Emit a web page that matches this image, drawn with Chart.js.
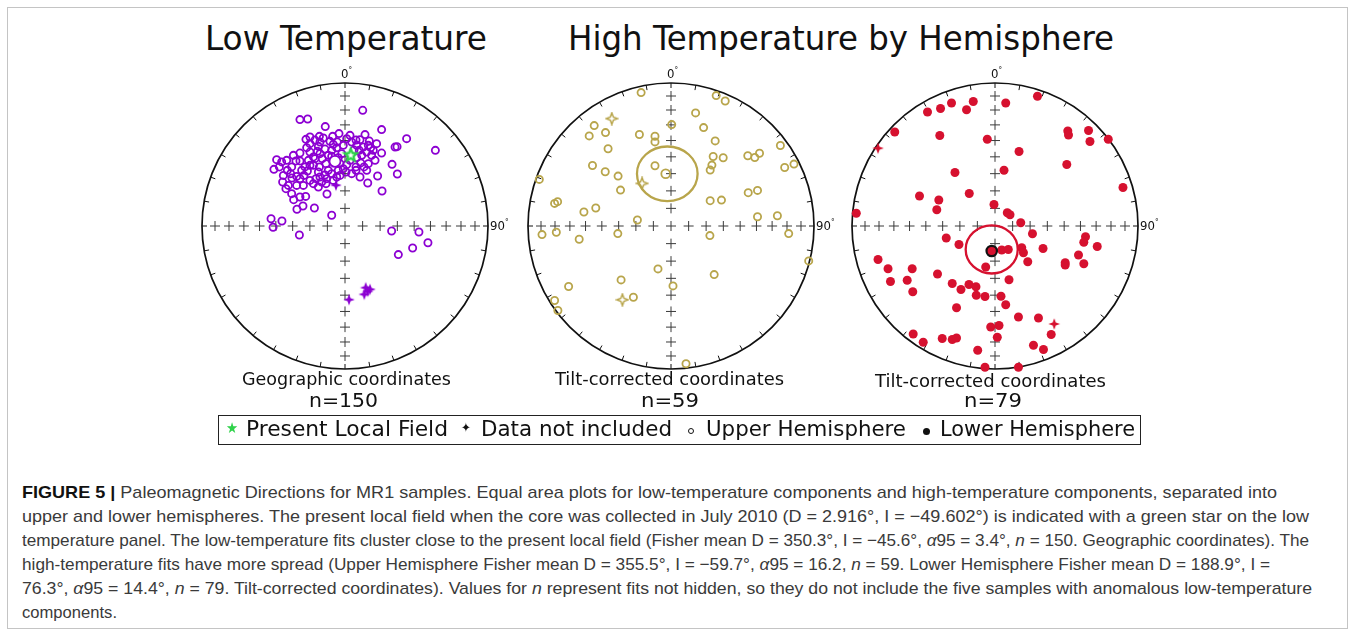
<!DOCTYPE html>
<html>
<head>
<meta charset="utf-8">
<script src="https://cdn.jsdelivr.net/npm/chart.js"></script>
<style>
  body { margin:0; width:1355px; height:635px; position:relative; background:#fff; overflow:hidden;
         font-family:"DejaVu Sans Condensed","DejaVu Sans",sans-serif; color:#111; }
  .t { position:absolute; white-space:nowrap; line-height:1; transform-origin:0 0; }
  canvas { position:absolute; }
  #frame { position:absolute; left:7px; top:7px; width:1339px; height:620px; border:1px solid #c4c4c4; }
  #legend { position:absolute; left:218px; top:415px; width:921px; height:28px; border:1.5px solid #222; }
  .cap { font-family:"Liberation Sans Narrow","Liberation Sans",sans-serif; font-size:17px; color:#3a3a3a; }
  .cap b { color:#111; }
</style>
</head>
<body>
<div id="frame"></div>

<div class="t fit" data-w="282" style="left:205px;top:22px;font-size:33px">Low Temperature</div>
<div class="t fit" data-w="546" style="left:568px;top:22px;font-size:33px">High Temperature by Hemisphere</div>

<canvas id="c1" width="320" height="320" style="left:185px;top:66px"></canvas>
<canvas id="c2" width="320" height="320" style="left:511px;top:66px"></canvas>
<canvas id="c3" width="320" height="320" style="left:835px;top:66px"></canvas>

<div class="t" style="left:341px;top:67px;font-size:13px">0<span style="font-size:8px;vertical-align:5px">°</span></div>
<div class="t" style="left:667px;top:67px;font-size:13px">0<span style="font-size:8px;vertical-align:5px">°</span></div>
<div class="t" style="left:991px;top:67px;font-size:13px">0<span style="font-size:8px;vertical-align:5px">°</span></div>
<div class="t" style="left:490px;top:219px;font-size:13px">90<span style="font-size:8px;vertical-align:5px">°</span></div>
<div class="t" style="left:816px;top:219px;font-size:13px">90<span style="font-size:8px;vertical-align:5px">°</span></div>
<div class="t" style="left:1140px;top:219px;font-size:13px">90<span style="font-size:8px;vertical-align:5px">°</span></div>

<div class="t fit" data-w="209" style="left:242px;top:371px;font-size:17px">Geographic coordinates</div>
<div class="t fit" data-w="69" style="left:309px;top:390px;font-size:20px">n=150</div>
<div class="t fit" data-w="229" style="left:555px;top:371px;font-size:17px">Tilt-corrected coordinates</div>
<div class="t fit" data-w="58" style="left:641px;top:390px;font-size:20px">n=59</div>
<div class="t fit" data-w="231" style="left:875px;top:373px;font-size:17px">Tilt-corrected coordinates</div>
<div class="t fit" data-w="58" style="left:964px;top:390px;font-size:20px">n=79</div>

<div id="legend"></div>
<div class="t" style="left:226px;top:421px;font-size:15px;color:#2fd24a">★</div>
<div class="t fit" data-w="202" style="left:246px;top:418px;font-size:22px">Present Local Field</div>
<div class="t" style="left:461px;top:421px;font-size:13px">✦</div>
<div class="t fit" data-w="191" style="left:481px;top:418px;font-size:22px">Data not included</div>
<div style="position:absolute;left:688px;top:428px;width:4px;height:4px;border:1.3px solid #111;border-radius:50%"></div>
<div class="t fit" data-w="200" style="left:706px;top:418px;font-size:22px">Upper Hemisphere</div>
<div style="position:absolute;left:923px;top:428px;width:7px;height:7px;background:#111;border-radius:50%"></div>
<div class="t fit" data-w="195" style="left:940px;top:418px;font-size:22px">Lower Hemisphere</div>

<div class="t cap fit" data-w="1255" style="left:22px;top:484px"><b>FIGURE 5 |</b> Paleomagnetic Directions for MR1 samples. Equal area plots for low-temperature components and high-temperature components, separated into</div>
<div class="t cap fit" data-w="1287" style="left:22px;top:508px">upper and lower hemispheres. The present local field when the core was collected in July 2010 (D = 2.916°, I = −49.602°) is indicated with a green star on the low</div>
<div class="t cap fit" data-w="1287" style="left:22px;top:532px">temperature panel. The low-temperature fits cluster close to the present local field (Fisher mean D = 350.3°, I = −45.6°, <i>α</i>95 = 3.4°, <i>n</i> = 150. Geographic coordinates). The</div>
<div class="t cap fit" data-w="1248" style="left:22px;top:556px">high-temperature fits have more spread (Upper Hemisphere Fisher mean D = 355.5°, I = −59.7°, <i>α</i>95 = 16.2, <i>n</i> = 59. Lower Hemisphere Fisher mean D = 188.9°, I =</div>
<div class="t cap fit" data-w="1290" style="left:22px;top:580px">76.3°, <i>α</i>95 = 14.4°, <i>n</i> = 79. Tilt-corrected coordinates). Values for <i>n</i> represent fits not hidden, so they do not include the five samples with anomalous low-temperature</div>
<div class="t cap fit" data-w="95" style="left:22px;top:604px">components.</div>

<script>
// positions in the equal-area net, as fractions of the net radius (x = east, y = north)
var lowUpper = [
  [0.124,0.809],[-0.315,0.744],[-0.261,0.748],[-0.138,0.695],[0.256,0.674],[0.431,0.611],[0.632,0.529],
  [0.350,0.552],[0.364,0.555],[0.256,0.510],[0.329,0.431],[0.366,0.364],[0.228,0.350],[0.259,0.245],
  [0.159,0.301],[-0.126,0.224],[-0.214,0.126],[-0.093,0.075],[-0.336,0.117],[-0.294,0.140],[-0.275,0.207],
  [-0.315,0.203],[-0.359,0.184],[-0.373,0.226],[-0.517,0.051],[-0.503,-0.009],[-0.441,0.035],[-0.319,-0.063],
  [0.326,-0.035],[0.517,-0.042],[0.580,-0.117],[0.473,-0.154],[0.373,-0.200],
  [-0.273,0.606],[-0.245,0.622],[-0.210,0.601],[-0.152,0.615],[-0.105,0.592],[-0.042,0.646],[0.012,0.611],
  [0.077,0.601],[0.105,0.604],[0.140,0.639],[0.170,0.594],[0.179,0.548],[0.047,0.587],[-0.054,0.587],
  [-0.175,0.587],[-0.478,0.464],[-0.315,0.455],[-0.256,0.459],[-0.221,0.483],[-0.193,0.522],[-0.140,0.538],
  [-0.093,0.529],[-0.058,0.548],[-0.023,0.506],[0.063,0.531],[0.100,0.529],[0.128,0.552],[0.152,0.517],
  [0.186,0.494],[0.198,0.529],[-0.245,0.517],[-0.210,0.471],[-0.159,0.471],[-0.117,0.494],[-0.497,0.396],
  [-0.459,0.413],[-0.403,0.389],[-0.343,0.455],[-0.303,0.389],[-0.263,0.385],[-0.221,0.424],[-0.179,0.413],
  [-0.133,0.436],[-0.086,0.455],[-0.035,0.436],[0.012,0.429],[0.077,0.413],[0.110,0.441],[0.152,0.389],
  [0.133,0.413],[-0.431,0.354],[-0.380,0.366],[-0.371,0.336],[-0.338,0.284],[-0.315,0.331],[-0.287,0.354],
  [-0.245,0.319],[-0.203,0.331],[-0.175,0.343],[-0.140,0.357],[-0.093,0.366],[-0.058,0.343],[-0.012,0.401],
  [0.007,0.378],[0.077,0.389],[-0.436,0.308],[-0.413,0.261],[-0.396,0.284],[-0.291,0.284],[-0.221,0.296],
  [-0.186,0.273],[-0.133,0.296],[-0.082,0.319],
  [-0.186,0.557],[-0.082,0.571],[-0.012,0.564],[0.082,0.564],[0.117,0.494],[0.082,0.478],[0.035,0.459],
  [-0.047,0.478],[-0.093,0.487],[-0.175,0.506],[-0.268,0.548],[-0.315,0.510],[-0.361,0.494],[-0.408,0.459],
  [-0.443,0.448],[-0.280,0.413],[-0.245,0.424],[-0.186,0.378],[-0.117,0.389],[-0.047,0.389],[0.047,0.366],
  [0.105,0.343],[0.163,0.436],[0.210,0.459],[0.221,0.576],[0.163,0.564],[0.035,0.634],[-0.086,0.627],
  [-0.179,0.627],[-0.245,0.576],[-0.373,0.413],[-0.338,0.347],[-0.163,0.308],[-0.035,0.354],[-0.128,0.331]
];
var lowExcluded = [[0.145,-0.431],[0.175,-0.443],[0.135,-0.478],[0.028,-0.515],[0.159,-0.457],[-0.063,0.285]];
var presentField = [[0.040,0.494]];
var lowMean = [[-0.070,0.452]];

var highUpper = [
  [-0.209,0.933],[0.316,0.912],[0.379,0.874],[0.172,0.791],[0.005,0.709],[0.228,0.688],[-0.537,0.702],
  [-0.572,0.630],[-0.458,0.653],[-0.221,0.640],[-0.112,0.628],[-0.112,0.588],[0.309,0.595],[-0.440,0.540],
  [0.295,0.486],[0.365,0.477],[0.537,0.491],[0.586,0.479],[0.619,0.509],[0.765,0.563],[0.286,0.426],
  [0.274,0.391],[0.795,0.409],[0.860,0.433],[-0.549,0.423],[-0.460,0.379],[-0.370,0.349],[-0.353,0.251],
  [-0.112,0.421],[-0.921,0.326],[-0.814,0.158],[-0.793,0.170],[-0.609,0.098],[-0.526,0.126],[-0.235,0.042],
  [0.274,0.177],[0.353,0.181],[0.540,0.233],[0.605,0.249],[0.605,0.065],[0.744,0.072],[-0.902,-0.060],
  [-0.802,-0.044],[-0.642,-0.093],[-0.372,-0.053],[0.272,-0.067],[0.823,-0.053],[0.963,-0.244],
  [-0.091,-0.300],[0.302,-0.340],[-0.349,-0.377],[0.014,-0.419],[-0.716,-0.423],[-0.814,-0.521],
  [-0.791,-0.591],[-0.263,-0.498],[0.105,-0.963]
];
var highUpperExcluded = [[-0.414,0.751],[-0.202,0.298],[-0.340,-0.516]];
var highUpperMean = [[-0.037,0.365]];
var highUpperCone = [-0.026, 0.365, 0.212, 0.191];   // centre x, centre y, half width, half height

var highLower = [
  [0.297,0.907],[0.075,0.860],[-0.152,0.871],[-0.199,0.813],[-0.304,0.860],[-0.381,0.822],[-0.472,0.797],
  [-0.701,0.657],[-0.386,0.633],[-0.054,0.607],[0.509,0.664],[0.514,0.636],[0.654,0.668],[0.664,0.591],
  [0.792,0.607],[0.168,0.521],[0.502,0.430],[0.063,0.390],[-0.280,0.374],[0.895,0.269],[-0.528,0.210],
  [-0.393,0.182],[-0.180,0.227],[-0.407,0.114],[-0.970,0.089],[-0.007,0.150],[0.086,0.093],[0.105,0.079],
  [0.180,0.023],[0.262,-0.054],[-0.341,-0.084],[-0.252,-0.129],[0.047,-0.168],[0.093,-0.164],[0.187,-0.152],
  [0.199,-0.187],[0.336,-0.157],[0.229,-0.250],[0.633,-0.075],[0.621,-0.114],[0.715,-0.143],[0.584,-0.203],
  [0.491,-0.257],[0.491,-0.273],[0.621,-0.264],[-0.065,-0.287],[-0.818,-0.234],[-0.748,-0.299],
  [-0.731,-0.388],[-0.614,-0.379],[-0.579,-0.299],[-0.575,-0.460],[-0.402,-0.336],[-0.299,-0.402],
  [-0.238,-0.444],[-0.182,-0.409],[-0.133,-0.425],[-0.131,-0.484],[-0.070,-0.493],[0.042,-0.491],
  [0.075,-0.551],[0.098,-0.376],[-0.269,-0.572],[0.164,-0.636],[0.304,-0.643],[-0.030,-0.706],
  [0.028,-0.696],[0.016,-0.778],[-0.572,-0.755],[-0.502,-0.813],[-0.369,-0.787],[-0.299,-0.794],
  [-0.269,-0.783],[-0.121,-0.869],[-0.070,-0.988],[0.164,-0.988],[0.269,-0.834],[0.339,-0.864],[0.393,-0.759]
];
var highLowerExcluded = [[-0.818,0.544],[0.414,-0.685]];
var highLowerMean = [[-0.023,-0.175]];
var highLowerCone = [-0.023, -0.164, 0.182, 0.168];

var incTicks = [80, 70, 60, 50, 40, 30, 20, 10];

var purple = '#8c00d2', olive = '#b8a54b', red = '#d6112f';

function pts(a) { return a.map(function (p) { return {x: p[0], y: p[1]}; }); }

function starIcon() {
  var c = document.createElement('canvas'); c.width = 20; c.height = 20;
  var g = c.getContext('2d');
  function star(r1, r2, col) {
    g.beginPath();
    for (var i = 0; i < 10; i++) {
      var r = i % 2 ? r2 : r1, a = -Math.PI / 2 + i * Math.PI / 5;
      g.lineTo(10 + r * Math.cos(a), 10 + r * Math.sin(a));
    }
    g.closePath(); g.fillStyle = col; g.fill();
  }
  star(9.5, 4.2, '#2fd24a');
  star(3.5, 1.5, '#ffffff');
  return c;
}

function fourStar(col, filled) {
  var c = document.createElement('canvas'); c.width = 14; c.height = 14;
  var g = c.getContext('2d');
  g.beginPath();
  for (var i = 0; i < 8; i++) {
    var r = i % 2 ? 2.2 : 5.8, a = -Math.PI / 2 + i * Math.PI / 4;
    g.lineTo(7 + r * Math.cos(a), 7 + r * Math.sin(a));
  }
  g.closePath();
  if (filled) { g.fillStyle = col; g.fill(); }
  else { g.strokeStyle = col; g.lineWidth = 1.5; g.stroke(); }
  return c;
}

var netPlugin = {
  id: 'net',
  beforeDatasetsDraw: function (chart) {
    var ctx = chart.ctx, x = chart.scales.x, y = chart.scales.y;
    var cx = x.getPixelForValue(0), cy = y.getPixelForValue(0);
    var R = x.getPixelForValue(1) - cx;
    ctx.save();
    ctx.strokeStyle = '#111'; ctx.lineWidth = 1.7;
    ctx.beginPath(); ctx.arc(cx, cy, R, 0, 2 * Math.PI); ctx.stroke();
    ctx.lineWidth = 1;
    for (var d = 0; d < 360; d += 10) {
      var a = d * Math.PI / 180;
      ctx.beginPath();
      ctx.moveTo(cx + R * Math.sin(a), cy - R * Math.cos(a));
      ctx.lineTo(cx + (R - 5) * Math.sin(a), cy - (R - 5) * Math.cos(a));
      ctx.stroke();
    }
    ctx.strokeStyle = '#3a3a3a';
    function cross(px, py) {
      ctx.beginPath();
      ctx.moveTo(px - 5, py); ctx.lineTo(px + 5, py);
      ctx.moveTo(px, py - 5); ctx.lineTo(px, py + 5);
      ctx.stroke();
    }
    cross(cx, cy);
    incTicks.forEach(function (inc) {
      var r = Math.SQRT2 * Math.sin((90 - inc) / 2 * Math.PI / 180);
      cross(x.getPixelForValue(r), cy); cross(x.getPixelForValue(-r), cy);
      cross(cx, y.getPixelForValue(r)); cross(cx, y.getPixelForValue(-r));
    });
    ctx.restore();
  },
  afterDatasetsDraw: function (chart, args, opts) {
    if (!opts.cone) return;
    var x = chart.scales.x, y = chart.scales.y, c = opts.cone, ctx = chart.ctx;
    var px = x.getPixelForValue(c[0]), py = y.getPixelForValue(c[1]);
    var rx = x.getPixelForValue(c[0] + c[2]) - px, ry = py - y.getPixelForValue(c[1] + c[3]);
    ctx.save();
    ctx.strokeStyle = opts.color; ctx.lineWidth = 2.3;
    ctx.beginPath(); ctx.ellipse(px, py, rx, ry, 0, 0, 2 * Math.PI); ctx.stroke();
    ctx.restore();
  }
};

function openSet(data, col) {
  return { data: pts(data), pointStyle: 'circle', pointRadius: 3.6, borderWidth: 1.8,
           borderColor: col, backgroundColor: 'rgba(0,0,0,0)', clip: false };
}

function net(id, datasets, plug) {
  return new Chart(document.getElementById(id), {
    type: 'scatter',
    data: { datasets: datasets },
    options: {
      responsive: false, animation: false, events: [],
      layout: { padding: 17 },
      scales: {
        x: { type: 'linear', min: -1, max: 1, display: false },
        y: { type: 'linear', min: -1, max: 1, display: false }
      },
      plugins: { legend: { display: false }, tooltip: { enabled: false }, net: plug || {} }
    },
    plugins: [netPlugin]
  });
}

net('c1', [
  { data: pts(presentField), pointStyle: starIcon(), clip: false },
  { data: pts(lowMean), pointRadius: 5.5, borderWidth: 1.8, borderColor: purple, backgroundColor: '#fff', clip: false },
  { data: pts(lowExcluded), pointStyle: fourStar(purple, true), clip: false },
  openSet(lowUpper, purple)
]);

net('c2', [
  { data: pts(highUpperMean), pointRadius: 4.4, borderWidth: 1.8, borderColor: olive, backgroundColor: 'rgba(0,0,0,0)', clip: false },
  { data: pts(highUpperExcluded), pointStyle: fourStar(olive, false), clip: false },
  openSet(highUpper, olive)
], { cone: highUpperCone, color: olive });

net('c3', [
  { data: pts(highLowerMean), pointRadius: 5.2, borderWidth: 2.2, borderColor: '#111', backgroundColor: red, clip: false },
  { data: pts(highLowerExcluded), pointStyle: fourStar(red, true), clip: false },
  { data: pts(highLower), pointRadius: 4.5, borderWidth: 0, backgroundColor: red, clip: false }
], { cone: highLowerCone, color: red });

document.querySelectorAll('.fit').forEach(function (el) {
  var w = el.getBoundingClientRect().width;
  el.style.transform = 'scaleX(' + (parseFloat(el.dataset.w) / w) + ')';
});
</script>
</body>
</html>
